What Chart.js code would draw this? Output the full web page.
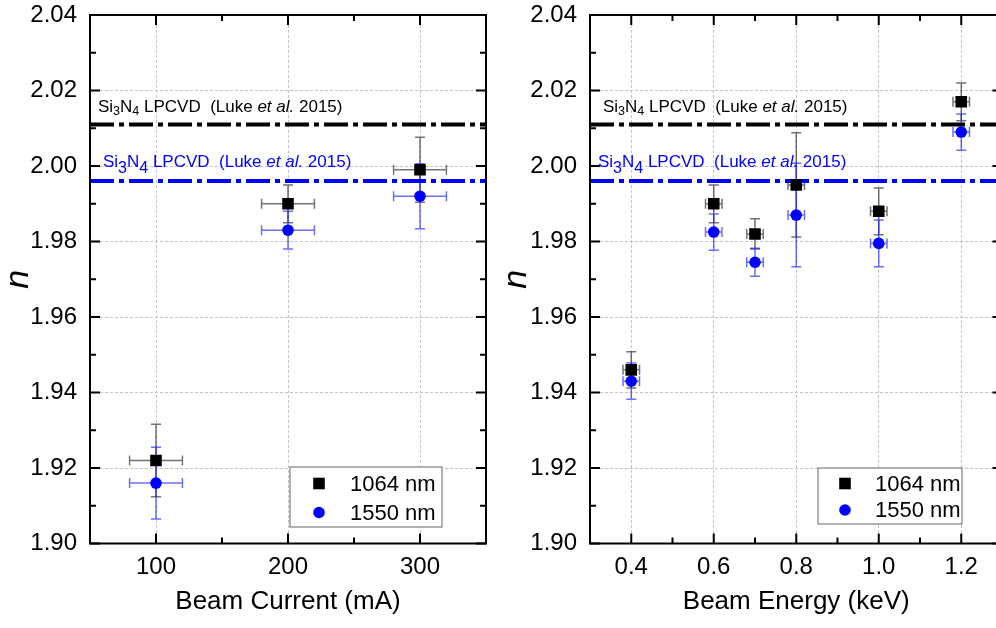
<!DOCTYPE html>
<html><head><meta charset="utf-8">
<script src="https://cdn.jsdelivr.net/npm/chart.js@4.4.1/dist/chart.umd.min.js"></script>
<style>
html,body{margin:0;padding:0;background:#fff;overflow:hidden;width:996px;height:628px;}
#wrap{position:relative;width:996px;height:628px;overflow:hidden;background:#fff;}
canvas{position:absolute;top:0;}
</style></head><body>
<div id="wrap">
<canvas id="c1" width="498" height="628" style="left:0;width:498px;height:628px"></canvas>
<canvas id="c2" width="520" height="628" style="left:498px;width:520px;height:628px"></canvas>
</div>
<script>
// ---------- data ----------
const nTicks = [1.90, 1.92, 1.94, 1.96, 1.98, 2.00, 2.02, 2.04];
const nMinorTicks = [1.91, 1.93, 1.95, 1.97, 1.99, 2.01, 2.03];
const currentTicks = [100, 200, 300];
const currentMinorTicks = [50, 150, 250, 350];
const energyTicks = [0.4, 0.6, 0.8, 1.0, 1.2];
const energyMinorTicks = [0.3, 0.5, 0.7, 0.9, 1.1, 1.3];
const seriesNames = ['1064 nm', '1550 nm'];

const current = [100, 200, 300];
const currentErr = [20, 20, 20];
const n1064Current = [1.922, 1.990, 1.999];
const n1064CurrentErr = [0.0096, 0.005, 0.0086];
const n1550Current = [1.916, 1.983, 1.992];
const n1550CurrentErr = [0.0095, 0.005, 0.0086];

const energy = [0.4, 0.6, 0.7, 0.8, 1.0, 1.2];
const energyErr = [0.02, 0.02, 0.02, 0.02, 0.02, 0.02];
const n1064Energy = [1.946, 1.990, 1.982, 1.995, 1.988, 2.017];
const n1064EnergyErr = [0.0048, 0.005, 0.004, 0.0138, 0.0062, 0.005];
const n1550Energy = [1.943, 1.9825, 1.9745, 1.987, 1.9795, 2.009];
const n1550EnergyErr = [0.0048, 0.0048, 0.0037, 0.0137, 0.0062, 0.0048];

const lpcvd1064 = 2.011;
const lpcvd1550 = 1.996;
const refLabelParts = [['Si', 0], ['3', 1], ['N', 0], ['4', 1], [' LPCVD  (Luke ', 0], ['et al.', 2], [' 2015)', 0]];

const xTitleCurrent = 'Beam Current (mA)';
const xTitleEnergy = 'Beam Energy (keV)';
const yTitle = 'n';

// ---------- styling ----------
Chart.defaults.font.family = "'Liberation Sans', Arial, Helvetica, sans-serif";
Chart.defaults.color = '#000';
const FAM = "'Liberation Sans', Arial, Helvetica, sans-serif";

function drawRich(ctx, x, y, color, base, sub, subDy) {
  ctx.save();
  ctx.fillStyle = color;
  ctx.textBaseline = 'alphabetic';
  ctx.textAlign = 'left';
  let cx = x;
  refLabelParts.forEach(([t, kind]) => {
    const size = kind === 1 ? sub : base;
    ctx.font = (kind === 2 ? 'italic ' : '') + size + 'px ' + FAM;
    ctx.fillText(t, cx, y + (kind === 1 ? subDy : 0));
    cx += ctx.measureText(t).width;
  });
  ctx.restore();
}

const decor = {
  id: 'decor',
  beforeDatasetsDraw(chart, args, o) {
    const ctx = chart.ctx, xs = chart.scales.x, ys = chart.scales.y;
    chart.data.datasets.forEach(ds => {
      if (!ds.errY) return;
      ctx.save();
      ctx.strokeStyle = ds.errColor;
      ctx.lineWidth = 1.5;
      const c = 5;
      ds.data.forEach((p, i) => {
        const cx = xs.getPixelForValue(p.x), cy = ys.getPixelForValue(p.y);
        const y1 = ys.getPixelForValue(p.y + ds.errY[i]), y2 = ys.getPixelForValue(p.y - ds.errY[i]);
        const x1 = xs.getPixelForValue(p.x - ds.errX[i]), x2 = xs.getPixelForValue(p.x + ds.errX[i]);
        ctx.beginPath();
        ctx.moveTo(cx, y1); ctx.lineTo(cx, y2);
        ctx.moveTo(cx - c, y1); ctx.lineTo(cx + c, y1);
        ctx.moveTo(cx - c, y2); ctx.lineTo(cx + c, y2);
        ctx.moveTo(x1, cy); ctx.lineTo(x2, cy);
        ctx.moveTo(x1, cy - c); ctx.lineTo(x1, cy + c);
        ctx.moveTo(x2, cy - c); ctx.lineTo(x2, cy + c);
        ctx.stroke();
      });
      ctx.restore();
    });
  },
  afterDatasetsDraw(chart, args, o) {
    const ctx = chart.ctx, xs = chart.scales.x, ys = chart.scales.y, ca = chart.chartArea;
    // annotations
    drawRich(ctx, ca.left + o.blackDx, ys.getPixelForValue(lpcvd1064) - 12, '#000', 17, 12.5, 3);
    drawRich(ctx, ca.left + o.blueDx, ys.getPixelForValue(lpcvd1550) - 14.5, '#0000ff', 17, 16, 6);
    // frame
    ctx.save();
    ctx.strokeStyle = '#000';
    ctx.lineWidth = 2;
    ctx.strokeRect(ca.left, ca.top, ca.right - ca.left, ca.bottom - ca.top);
    // ticks (inward on all sides)
    const L = 10, l = 6;
    ctx.beginPath();
    const xt = (vals, len) => vals.forEach(v => {
      const px = xs.getPixelForValue(v);
      ctx.moveTo(px, ca.bottom); ctx.lineTo(px, ca.bottom - len);
      ctx.moveTo(px, ca.top); ctx.lineTo(px, ca.top + len);
    });
    const yt = (vals, len) => vals.forEach(v => {
      const py = ys.getPixelForValue(v);
      ctx.moveTo(ca.left, py); ctx.lineTo(ca.left + len, py);
      ctx.moveTo(ca.right, py); ctx.lineTo(ca.right - len, py);
    });
    xt(o.xMajor, L); xt(o.xMinor, l); yt(nTicks, L); yt(nMinorTicks, l);
    ctx.stroke();
    ctx.restore();
    // legend
    const lg = o.legend;
    const bx = ca.right - lg.right - lg.w, by = ca.bottom - lg.bottom - lg.h;
    ctx.save();
    ctx.fillStyle = '#fff';
    ctx.fillRect(bx, by, lg.w, lg.h);
    ctx.strokeStyle = '#7f7f7f';
    ctx.lineWidth = 1.2;
    ctx.strokeRect(bx, by, lg.w, lg.h);
    const items = chart.data.datasets.filter(d => d.inLegend);
    items.forEach((d, i) => {
      const my = by + lg.rows[i], mx = bx + lg.mx;
      ctx.fillStyle = d.backgroundColor;
      if (d.pointStyle === 'rect') ctx.fillRect(mx - 5.8, my - 5.8, 11.6, 11.6);
      else { ctx.beginPath(); ctx.arc(mx, my, 5.8, 0, Math.PI * 2); ctx.fill(); }
      ctx.fillStyle = '#000';
      ctx.font = '22px ' + FAM;
      ctx.textBaseline = 'middle';
      ctx.textAlign = 'left';
      ctx.fillText(d.label, bx + lg.tx, my + 1);
    });
    ctx.restore();
  }
};

function buildChart(id, cfg) {
  const toPts = (xv, yv) => xv.map((x, i) => ({ x: x, y: yv[i] }));
  const chart = new Chart(document.getElementById(id), {
    type: 'scatter',
    data: {
      datasets: [
        { label: seriesNames[0], inLegend: true, data: toPts(cfg.x, cfg.y1064), errY: cfg.e1064, errX: cfg.ex,
          errColor: 'rgba(40,40,40,0.65)', pointStyle: 'rect', pointRadius: 8.2, pointBorderWidth: 0,
          backgroundColor: '#000', borderColor: '#000' },
        { label: seriesNames[1], inLegend: true, data: toPts(cfg.x, cfg.y1550), errY: cfg.e1550, errX: cfg.ex,
          errColor: 'rgba(30,30,255,0.65)', pointStyle: 'circle', pointRadius: 5.8, pointBorderWidth: 0,
          backgroundColor: '#0000ff', borderColor: '#0000ff' },
        { label: 'ref1064', data: [{ x: cfg.xMin, y: lpcvd1064 }, { x: cfg.xMax, y: lpcvd1064 }], showLine: true,
          pointRadius: 0, borderColor: '#000', borderWidth: 4, borderDash: [24, 5, 5, 5], borderCapStyle: 'butt' },
        { label: 'ref1550', data: [{ x: cfg.xMin, y: lpcvd1550 }, { x: cfg.xMax, y: lpcvd1550 }], showLine: true,
          pointRadius: 0, borderColor: '#0000ff', borderWidth: 4, borderDash: [24, 5, 5, 5], borderCapStyle: 'butt' }
      ]
    },
    options: {
      responsive: false, animation: false, devicePixelRatio: 1,
      layout: { padding: Object.assign({}, cfg.padding) },
      plugins: {
        legend: { display: false }, tooltip: { enabled: false },
        decor: { xMajor: cfg.xTicks, xMinor: cfg.xMinorTicks, blackDx: cfg.blackDx, blueDx: cfg.blueDx, legend: cfg.legend }
      },
      scales: {
        x: {
          type: 'linear', min: cfg.xMin, max: cfg.xMax,
          afterBuildTicks: s => { s.ticks = cfg.xTicks.map(v => ({ value: v })); },
          afterFit: s => { s.height = 84.5; s.paddingLeft = 0; s.paddingRight = 0; },
          grid: { color: '#c4c4c4', lineWidth: 1, drawTicks: false, borderDash: [3, 2] },
          border: { display: false, dash: [3, 2] },
          ticks: { font: { size: 24 }, color: '#000', padding: 9, maxRotation: 0, autoSkip: false,
                   callback: v => cfg.xFmt(v) },
          title: { display: true, text: cfg.xTitle, font: { size: 26 }, color: '#000', padding: { top: 0, bottom: 11 } }
        },
        y: {
          type: 'linear', min: nTicks[0], max: nTicks[nTicks.length - 1],
          afterBuildTicks: s => { s.ticks = nTicks.map(v => ({ value: v })); },
          afterFit: s => { s.width = cfg.yWidth; s.paddingTop = 0; s.paddingBottom = 0; },
          grid: { color: '#c4c4c4', lineWidth: 1, drawTicks: false, borderDash: [3, 2] },
          border: { display: false, dash: [3, 2] },
          ticks: { font: { size: 24 }, color: '#000', padding: 13, autoSkip: false, callback: v => v.toFixed(2) },
          title: { display: true, text: yTitle, font: { size: 34, style: 'italic', lineHeight: 1 }, color: '#000', padding: { top: 2, bottom: 0 } }
        }
      }
    },
    plugins: [decor]
  });
  // nudge layout padding so the plot area lands on the target frame
  for (let k = 0; k < 3; k++) {
    const ca = chart.chartArea, p = chart.options.layout.padding, t = cfg.target;
    const dTop = ca.top - t.top, dBottom = t.bottom - ca.bottom, dLeft = ca.left - t.left, dRight = t.right - ca.right;
    if (Math.abs(dTop) + Math.abs(dBottom) + Math.abs(dLeft) + Math.abs(dRight) < 0.2) break;
    p.top -= dTop; p.bottom -= dBottom; p.left -= dLeft; p.right -= dRight;
    chart.update('none');
  }
  return chart;
}

buildChart('c1', {
  x: current, ex: currentErr, y1064: n1064Current, e1064: n1064CurrentErr, y1550: n1550Current, e1550: n1550CurrentErr,
  xMin: currentMinorTicks[0], xMax: currentMinorTicks[currentMinorTicks.length - 1],
  xTicks: currentTicks, xMinorTicks: currentMinorTicks, xFmt: v => String(v), xTitle: xTitleCurrent,
  yWidth: 90, padding: { left: 0, top: 15, right: 12, bottom: 0 },
  target: { left: 90, top: 15, right: 486, bottom: 543.5 },
  blackDx: 8, blueDx: 13,
  legend: { w: 152, h: 60, right: 44, bottom: 16.5, rows: [16.5, 45.5], mx: 29, tx: 60 }
});
buildChart('c2', {
  x: energy, ex: energyErr, y1064: n1064Energy, e1064: n1064EnergyErr, y1550: n1550Energy, e1550: n1550EnergyErr,
  xMin: energyMinorTicks[0], xMax: energyMinorTicks[energyMinorTicks.length - 1],
  xTicks: energyTicks, xMinorTicks: energyMinorTicks, xFmt: v => v.toFixed(1), xTitle: xTitleEnergy,
  yWidth: 92, padding: { left: 0, top: 15, right: 15.5, bottom: 0 },
  target: { left: 92, top: 15, right: 504.5, bottom: 543.5 },
  blackDx: 13, blueDx: 8,
  legend: { w: 144, h: 56, right: 40.5, bottom: 19.5, rows: [15.5, 42], mx: 27, tx: 57 }
});
</script>
</body></html>
